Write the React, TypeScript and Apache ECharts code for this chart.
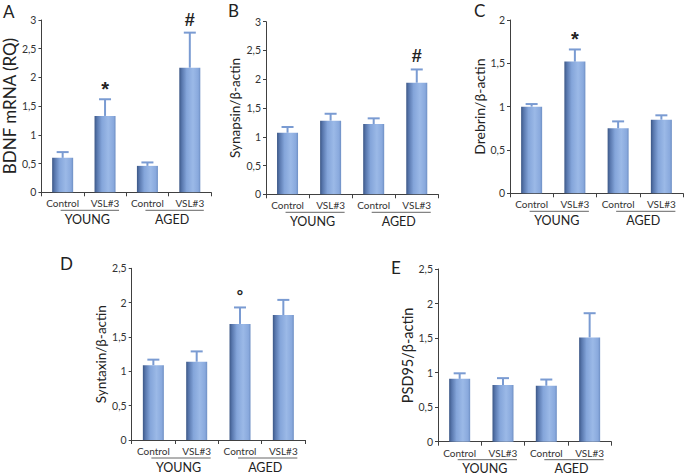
import React, { useEffect, useRef } from "react";
import * as echarts from "echarts";

// ---------- data ----------
const categories = ["Control", "VSL#3", "Control", "VSL#3"];
const groups = ["YOUNG", "AGED"];
const groupSpans = [[0, 1], [2, 3]];

const bdnf = [0.6, 1.33, 0.46, 2.17];
const bdnfErr = [0.1, 0.29, 0.06, 0.61];
const bdnfMarks = ["", "*", "", "#"];

const synapsin = [1.07, 1.28, 1.22, 1.94];
const synapsinErr = [0.1, 0.12, 0.1, 0.23];
const synapsinMarks = ["", "", "", "#"];

const drebrin = [1.0, 1.52, 0.75, 0.85];
const drebrinErr = [0.03, 0.14, 0.08, 0.05];
const drebrinMarks = ["", "*", "", ""];

const syntaxin = [1.09, 1.14, 1.69, 1.82];
const syntaxinErr = [0.08, 0.15, 0.24, 0.22];
const syntaxinMarks = ["", "", "°", ""];

const psd95 = [0.91, 0.82, 0.81, 1.51];
const psd95Err = [0.08, 0.1, 0.09, 0.35];
const psd95Marks = ["", "", "", ""];

const yMax = [3, 3, 2, 2.5, 2.5];
const yNames = ["BDNF mRNA (RQ)", "Synapsin/β-actin", "Drebrin/β-actin", "Syntaxin/β-actin", "PSD95/β-actin"];
const panelLetters = ["A", "B", "C", "D", "E"];

// ---------- layout / style ----------
const FONT = "Lato, 'Liberation Sans', sans-serif";
const MARK_FONT = "'Liberation Sans', Arial, sans-serif";
const grids = [
  { left: 38, top: 20, width: 173, height: 172.3 },
  { left: 266, top: 21.7, width: 172.3, height: 172.6 },
  { left: 510, top: 20, width: 173, height: 173.3 },
  { left: 131.7, top: 268.3, width: 173.3, height: 171.7 },
  { left: 438, top: 269, width: 173.3, height: 172.7 },
];
const nameSizes = [17, 13.5, 14, 13.5, 14.5];
const nameGaps = [18, 24, 21, 22, 22];
const titlePos = [
  { left: 3, top: 3 },
  { left: 228, top: 2 },
  { left: 474, top: 2 },
  { left: 60, top: 255 },
  { left: 391, top: 259 },
];

const AXIS = "#404040";
const ERR = "#7a9bd2";
const barGradient = new echarts.graphic.LinearGradient(0, 0, 1, 0, [
  { offset: 0, color: "#3c5786" },
  { offset: 0.12, color: "#5877ad" },
  { offset: 0.35, color: "#84a5da" },
  { offset: 0.65, color: "#9bb9e7" },
  { offset: 0.9, color: "#89a9dd" },
  { offset: 1, color: "#6e8fc4" },
]);

const datasets = [
  { v: bdnf, e: bdnfErr, m: bdnfMarks },
  { v: synapsin, e: synapsinErr, m: synapsinMarks },
  { v: drebrin, e: drebrinErr, m: drebrinMarks },
  { v: syntaxin, e: syntaxinErr, m: syntaxinMarks },
  { v: psd95, e: psd95Err, m: psd95Marks },
];

function markStyle(mk: string) {
  if (mk === "*") return { size: 20, dy: 0 };
  if (mk === "°") return { size: 17, dy: 2 };
  return { size: 18, dy: 4 };
}

function buildOption() {
  const grid: any[] = [];
  const xAxis: any[] = [];
  const yAxis: any[] = [];
  const series: any[] = [];
  const title: any[] = [];

  datasets.forEach((d, i) => {
    grid.push({ ...grids[i], containLabel: false });
    title.push({
      text: panelLetters[i],
      left: titlePos[i].left,
      top: titlePos[i].top,
      padding: 0,
      textStyle: { fontFamily: FONT, fontSize: 17, fontWeight: "normal", color: "#222" },
    });
    xAxis.push({
      type: "category",
      gridIndex: i,
      data: categories,
      axisLine: { lineStyle: { color: AXIS, width: 1 } },
      axisTick: { show: true, length: 4, lineStyle: { color: AXIS } },
      axisLabel: { interval: 0, fontFamily: FONT, fontSize: 10, color: "#333", margin: 6 },
      splitLine: { show: false },
    });
    yAxis.push({
      type: "value",
      gridIndex: i,
      min: 0,
      max: yMax[i],
      interval: 0.5,
      name: yNames[i],
      nameLocation: "middle",
      nameGap: nameGaps[i],
      nameTextStyle: { fontFamily: FONT, fontSize: nameSizes[i], color: "#222" },
      axisLine: { show: true, lineStyle: { color: AXIS, width: 1 } },
      axisTick: { show: true, length: 3, lineStyle: { color: AXIS } },
      axisLabel: {
        fontFamily: FONT,
        fontSize: 10.5,
        color: "#333",
        margin: 5,
        formatter: (val: number) => String(val).replace(".", ","),
      },
      splitLine: { show: false },
    });
    series.push({
      type: "bar",
      xAxisIndex: i,
      yAxisIndex: i,
      data: d.v,
      barWidth: 21,
      itemStyle: { color: barGradient },
      z: 2,
    });
    const marks = d.m;
    series.push({
      type: "custom",
      xAxisIndex: i,
      yAxisIndex: i,
      clip: false,
      z: 3,
      data: d.v.map((v, k) => [k, v, v + d.e[k]]),
      renderItem: (params: any, api: any) => {
        const x = api.value(0);
        const base = api.coord([x, api.value(1)]);
        const top = api.coord([x, api.value(2)]);
        const children: any[] = [
          {
            type: "line",
            shape: { x1: base[0], y1: base[1], x2: top[0], y2: top[1] },
            style: { stroke: ERR, lineWidth: 2 },
          },
          {
            type: "line",
            shape: { x1: top[0] - 6, y1: top[1], x2: top[0] + 6, y2: top[1] },
            style: { stroke: ERR, lineWidth: 2 },
          },
        ];
        const mk = marks[params.dataIndex];
        if (mk) {
          const ms = markStyle(mk);
          children.push({
            type: "text",
            x: top[0],
            y: top[1] - ms.dy,
            style: {
              text: mk,
              fill: "#222",
              font: `bold ${ms.size}px ${MARK_FONT}`,
              align: "center",
              verticalAlign: "bottom",
              textAlign: "center",
              textVerticalAlign: "bottom",
            },
          });
        }
        return { type: "group", children };
      },
    });
    series.push({
      type: "custom",
      xAxisIndex: i,
      yAxisIndex: i,
      clip: false,
      silent: true,
      data: groupSpans,
      renderItem: (params: any, api: any) => {
        const p0 = api.coord([api.value(0), 0]);
        const p1 = api.coord([api.value(1), 0]);
        const mid = (p0[0] + p1[0]) / 2;
        return {
          type: "group",
          children: [
            {
              type: "line",
              shape: { x1: p0[0] - 2, y1: p0[1] + 18, x2: p1[0] + 14, y2: p0[1] + 18 },
              style: { stroke: "#666", lineWidth: 1 },
            },
            {
              type: "text",
              x: mid + 3.5,
              y: p0[1] + 27,
              style: {
                text: groups[params.dataIndex],
                fill: "#222",
                font: `12.5px ${FONT}`,
                align: "center",
                verticalAlign: "middle",
                textAlign: "center",
                textVerticalAlign: "middle",
              },
            },
          ],
        };
      },
    });
  });

  return {
    animation: false,
    backgroundColor: "#ffffff",
    title,
    grid,
    xAxis,
    yAxis,
    series,
  };
}

export default function App() {
  const ref = useRef<HTMLDivElement>(null);
  useEffect(() => {
    document.body.style.margin = "0";
    if (!ref.current) return;
    const chart = echarts.init(ref.current, undefined, { renderer: "svg" });
    chart.setOption(buildOption() as any);
    return () => chart.dispose();
  }, []);
  return <div ref={ref} style={{ width: 687, height: 475 }} />;
}
